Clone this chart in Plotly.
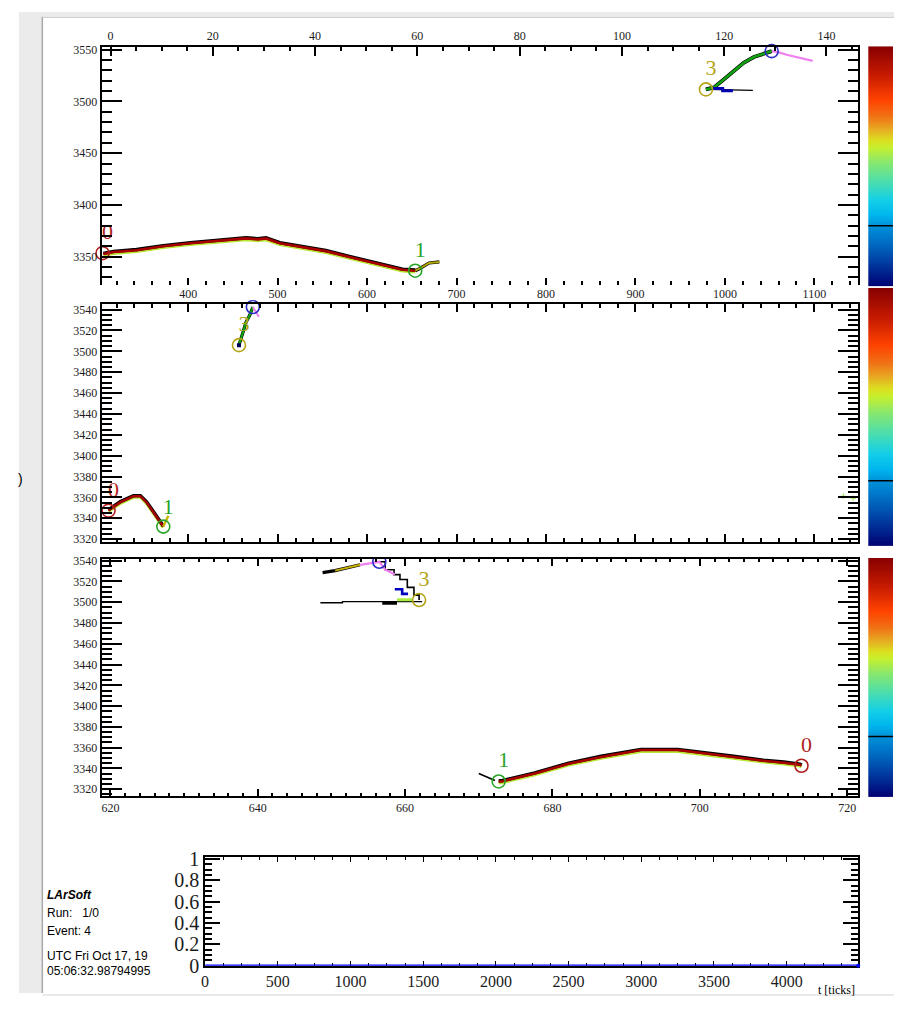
import numpy as np
import plotly.graph_objects as go

W, H = 905, 1010

# ---------------- vertices (same ids / colours in every view) ----------------
vtx_ids = ["0", "1", "2", "3"]
vtx_colors = ["#b01e1e", "#28a428", "#2c2cc4", "#b4a416"]

# ---------------- top view (x on the upper wire scale) ----------------
top_vtx_x = [-1.56, 59.58, 129.28, 116.43]
top_vtx_y = [3353.5, 3336.5, 3548.6, 3511.6]
top_trk0_x = [-1.4, 0.6, 5.1, 10.3, 15.6, 21.4, 26.5, 28.8, 30.4, 33.1, 37.6,
              42.1, 46.7, 50.6, 54.5, 57.1, 59.6]
top_trk0_y = [3352.6, 3354.5, 3356.3, 3360.1, 3363.0, 3365.8, 3367.7, 3366.8,
              3367.7, 3363.0, 3359.2, 3355.4, 3349.7, 3345.0, 3340.2, 3337.4, 3336.5]
top_tail_x = [59.6, 60.4, 62.3, 64.3]
top_tail_y = [3336.5, 3338.4, 3344.0, 3345.0]
top_trk1_x = [116.4, 118.0, 119.9, 121.9, 123.8, 125.8, 127.5, 129.3]
top_trk1_y = [3511.6, 3513.5, 3521.1, 3529.6, 3537.2, 3542.9, 3545.7, 3548.6]
top_trk2_x = [129.3, 130.5, 132.4, 134.9, 137.3]
top_trk2_y = [3548.6, 3547.6, 3544.8, 3541.9, 3539.1]
top_stub_x = [116.8, 125.6]
top_stub_y = [3511.6, 3510.7]
top_blue_x = [117.8, 119.7, 119.7, 121.7]
top_blue_y = [3512.4, 3512.4, 3510.3, 3510.3]

# ---------------- middle view ----------------
mid_vtx_x = [311.0, 372.2, 472.3, 456.8]
mid_vtx_y = [3347.3, 3332.0, 3542.5, 3505.9]
mid_trk0_x = [311.0, 313.2, 324.3, 338.8, 346.6, 353.3, 361.1, 370.0, 372.2]
mid_trk0_y = [3347.3, 3348.9, 3355.4, 3361.1, 3361.1, 3355.4, 3346.0, 3334.8, 3332.0]
mid_tail_x = [372.2, 377.8]
mid_tail_y = [3332.0, 3342.3]
mid_trk1_x = [456.8, 459.0, 461.2, 464.5, 469.0, 472.3]
mid_trk1_y = [3505.9, 3513.4, 3518.1, 3527.5, 3535.0, 3542.5]
mid_trk2_x = [472.3, 474.6, 479.0]
mid_trk2_y = [3542.5, 3538.8, 3533.1]
mid_hits_x = [1132.3, 1143.4]
mid_hits_y = [3361.1, 3359.2]

# ---------------- bottom view ----------------
bot_vtx_x = [713.8, 672.7, 656.5, 661.9]
bot_vtx_y = [3342.6, 3327.5, 3538.9, 3502.1]
bot_trk0_x = [713.8, 713.6, 711.4, 708.6, 704.6, 699.7, 697.0, 692.0, 690.3,
              686.6, 682.2, 677.6, 673.1, 672.7]
bot_trk0_y = [3342.6, 3343.6, 3345.5, 3347.4, 3351.1, 3354.9, 3357.7, 3357.7,
              3355.8, 3351.1, 3344.5, 3335.1, 3327.5, 3327.5]
bot_lead_x = [670.0, 672.2]
bot_lead_y = [3335.1, 3328.5]
bot_trk1_x = [656.5, 657.3, 658.5, 659.3, 660.3, 661.2, 661.9]
bot_trk1_y = [3538.9, 3531.3, 3526.6, 3521.9, 3514.3, 3506.8, 3502.1]
bot_trk2_x = [653.9, 656.5, 657.3, 658.6]
bot_trk2_y = [3536.0, 3538.9, 3531.3, 3526.6]
bot_left_x = [648.8, 650.5, 653.9]
bot_left_y = [3528.5, 3530.4, 3536.0]
bot_flat_x = [648.5, 651.5, 651.5, 662.3]
bot_flat_y = [3499.5, 3499.5, 3500.5, 3500.5]
bot_blob_x = [656.9, 658.9]
bot_blob_y = [3499.3, 3499.3]
bot_blue_x = [658.6, 659.6, 659.6, 660.4]
bot_blue_y = [3512.5, 3512.5, 3508.0, 3508.0]
bot_green_x = [658.9, 661.0]
bot_green_y = [3502.3, 3502.3]

# ---------------- time histogram ----------------
hist_t = [0, 4492]
hist_n = [0, 0]

# ---------------- view geometry (pixels) ----------------
X0, X1 = 98, 858
TOP_PX = (38.3, 282.0)
MID_PX = (300.5, 544.0)
BOT_PX = (561.0, 803.0)
HIST_PX = (202, 858, 865.0, 976.0)
CB_X = (868, 893)
CB_PX = [(38, 283), (284.5, 548), (560, 804)]

TOP_XW = [-1.75, 146.2]
TOP_XC = [303.2, 1149.0]
TOP_Y = [3322.3, 3553.0]
MID_X = [303.2, 1149.0]
MID_Y = [3317.0, 3545.8]
BOT_X = [618.8, 721.5]
BOT_Y = [3313.4, 3541.7]
T_RANGE = [0, 4492]


def xd(a, b):
    return [a / W, b / W]


def yd(a, b):
    return [1 - b / H, 1 - a / H]


SERIF = "Liberation Serif"
fig = go.Figure()


def line(x, y, color, width, xa, ya, shape="linear", clip=True):
    fig.add_trace(go.Scatter(x=x, y=y, mode="lines",
                             line=dict(color=color, width=width, shape=shape),
                             xaxis=xa, yaxis=ya, hoverinfo="skip",
                             showlegend=False, cliponaxis=clip))


def track(x, y, color, xa, ya, edge=1.1, core=2.6):
    ys = np.asarray(y, dtype=float)
    line(x, ys - edge, "#b8e634", 3.4, xa, ya)
    line(x, ys + 0.6 * edge, "black", 3.4, xa, ya)
    line(x, y, color, core, xa, ya)


def vertices(vx, vy, xa, ya, clip):
    fig.add_trace(go.Scatter(x=vx, y=vy, mode="markers",
                             marker=dict(symbol="circle-open", size=13,
                                         color=vtx_colors, line=dict(width=1.6)),
                             xaxis=xa, yaxis=ya, hoverinfo="skip",
                             showlegend=False, cliponaxis=clip))


def labels(vx, vy, xr, yr, ypx, xa, ya, clip, lift=(20, 20, 20, 20)):
    sx = (xr[1] - xr[0]) / (X1 - X0)
    sy = (yr[1] - yr[0]) / (ypx[1] - ypx[0])
    lx = [v + 5 * sx for v in vx]
    ly = [v + l * sy for v, l in zip(vy, lift)]
    fig.add_trace(go.Scatter(x=lx, y=ly, mode="text", text=vtx_ids,
                             textposition="middle center",
                             textfont=dict(family=SERIF, size=22, color=vtx_colors),
                             xaxis=xa, yaxis=ya, hoverinfo="skip",
                             showlegend=False, cliponaxis=clip))


# ---- top view ----
fig.add_trace(go.Scatter(x=[None], y=[None], xaxis="x", yaxis="y", showlegend=False))
line(top_stub_x, top_stub_y, "black", 1.3, "x2", "y")
track(top_trk0_x, top_trk0_y, "#a80000", "x2", "y")
line(top_tail_x, top_tail_y, "black", 3.2, "x2", "y")
line(top_tail_x, top_tail_y, "#b0a800", 2.0, "x2", "y")
line(top_trk1_x, top_trk1_y, "black", 3.8, "x2", "y")
line(top_trk1_x, top_trk1_y, "#10a010", 2.6, "x2", "y")
line(top_trk2_x, top_trk2_y, "#f080f0", 2.2, "x2", "y")
line(top_blue_x, top_blue_y, "#0000b0", 3.0, "x2", "y")
vertices(top_vtx_x, top_vtx_y, "x2", "y", False)
labels(top_vtx_x, top_vtx_y, TOP_XW, TOP_Y, TOP_PX, "x2", "y", False)

# ---- middle view ----
track(mid_trk0_x, mid_trk0_y, "#a80000", "x3", "y3", edge=0.9, core=2.4)
line(mid_tail_x, mid_tail_y, "#c8b400", 2.4, "x3", "y3")
line(mid_trk1_x, mid_trk1_y, "black", 3.2, "x3", "y3")
line(mid_trk1_x, mid_trk1_y, "#10a010", 2.2, "x3", "y3")
line(mid_trk2_x, mid_trk2_y, "#f080f0", 2.0, "x3", "y3")
fig.add_trace(go.Scatter(x=mid_hits_x, y=mid_hits_y, mode="markers",
                         marker=dict(symbol="cross-thin", size=4,
                                     line=dict(color="#9be25a", width=1)),
                         xaxis="x3", yaxis="y3", hoverinfo="skip", showlegend=False))
fig.add_trace(go.Scatter(x=mid_vtx_x[3:], y=mid_vtx_y[3:], mode="markers",
                         marker=dict(symbol="square", size=4, color="#000050"),
                         xaxis="x3", yaxis="y3", hoverinfo="skip", showlegend=False))
vertices(mid_vtx_x, mid_vtx_y, "x3", "y3", False)
labels(mid_vtx_x, mid_vtx_y, MID_X, MID_Y, MID_PX, "x3", "y3", False,
       lift=(20, 18, 8, 20))

# ---- bottom view ----
line(bot_flat_x, bot_flat_y, "black", 1.3, "x4", "y4")
line(bot_blob_x, bot_blob_y, "black", 3.5, "x4", "y4")
line(bot_green_x, bot_green_y, "#a8ec40", 3.0, "x4", "y4")
line(bot_left_x, bot_left_y, "black", 3.2, "x4", "y4")
line(bot_left_x[1:], bot_left_y[1:], "#c8b400", 2.0, "x4", "y4")
line(bot_trk1_x, bot_trk1_y, "black", 1.6, "x4", "y4", shape="hv")
line(bot_trk2_x, bot_trk2_y, "#f080f0", 2.2, "x4", "y4")
line(bot_blue_x, bot_blue_y, "#0000c0", 2.6, "x4", "y4")
line(bot_lead_x, bot_lead_y, "black", 1.6, "x4", "y4")
track(bot_trk0_x, bot_trk0_y, "#a80000", "x4", "y4")
vertices(bot_vtx_x, bot_vtx_y, "x4", "y4", True)
labels(bot_vtx_x, bot_vtx_y, BOT_X, BOT_Y, BOT_PX, "x4", "y4", True)

# ---- time histogram ----
line(hist_t, hist_n, "#0000ff", 2.4, "x5", "y5", clip=False)
fig.add_trace(go.Scatter(x=hist_t[-1:], y=hist_n[-1:], mode="markers",
                         marker=dict(size=4, color="#0000ff"), cliponaxis=False,
                         xaxis="x5", yaxis="y5", hoverinfo="skip", showlegend=False))

# ---- colour scales for hit charge ----
jet = [[0.0, "#000072"], [0.12, "#0048aa"], [0.2, "#0076ca"], [0.25, "#0090d8"],
       [0.3, "#00b6ee"], [0.36, "#14cfe8"], [0.43, "#46ddb4"], [0.52, "#8ae86c"],
       [0.58, "#c6f02e"], [0.61, "#dce020"], [0.66, "#e8a622"], [0.71, "#f07214"],
       [0.78, "#ff4200"], [0.88, "#c81c00"], [1.0, "#880000"]]
levels = np.linspace(0, 1, 200)
for k in range(3):
    fig.add_trace(go.Heatmap(z=[[v, v] for v in levels], x=[0, 1], y=levels,
                             colorscale=jet, showscale=False, zsmooth="best",
                             xaxis=f"x{6 + k}", yaxis=f"y{6 + k}", hoverinfo="skip"))

# ---------------- axes ----------------
TICKFONT = dict(family=SERIF, size=12, color="#1c1c1c")
BASE = dict(showgrid=False, zeroline=False, ticks="inside", tickcolor="black",
            linecolor="black", linewidth=2, fixedrange=True, tickfont=TICKFONT)


def minor(dt, ln, w=1.5):
    return dict(dtick=dt, tick0=0, ticklen=ln, tickwidth=w, ticks="inside",
                tickcolor="black", showgrid=False)


layout_axes = dict(
    xaxis=dict(BASE, domain=xd(X0, X1), range=TOP_XC, anchor="y", side="bottom",
               showline=False, dtick=100, tick0=0, ticklen=7, tickwidth=1.5,
               minor=minor(20, 4)),
    xaxis2=dict(BASE, domain=xd(X0, X1), range=TOP_XW, anchor="y", overlaying="x",
                side="top", showline=True, dtick=20, tick0=0, ticklen=9,
                tickwidth=1.5, minor=minor(5, 4)),
    yaxis=dict(BASE, domain=yd(*TOP_PX), range=TOP_Y, anchor="x", showline=True,
               mirror="ticks", dtick=50, tick0=0, ticklen=20, tickwidth=2,
               minor=minor(10, 10, 2)),
    xaxis3=dict(BASE, domain=xd(X0, X1), range=MID_X, anchor="y3", showline=True,
                mirror="ticks", dtick=100, tick0=0, ticklen=8, tickwidth=1.5,
                showticklabels=False, minor=minor(20, 4)),
    yaxis3=dict(BASE, domain=yd(*MID_PX), range=MID_Y, anchor="x3", showline=True,
                mirror="ticks", dtick=20, tick0=0, ticklen=20, tickwidth=2,
                minor=minor(5, 10, 2)),
    xaxis4=dict(BASE, domain=xd(X0, X1), range=BOT_X, anchor="y4", showline=True,
                mirror="ticks", dtick=20, tick0=0, ticklen=7, tickwidth=1.5,
                minor=minor(2, 3)),
    yaxis4=dict(BASE, domain=yd(*BOT_PX), range=BOT_Y, anchor="x4", showline=True,
                mirror="ticks", dtick=20, tick0=0, ticklen=20, tickwidth=2,
                minor=minor(5, 10, 2)),
    xaxis5=dict(BASE, domain=xd(HIST_PX[0], HIST_PX[1]), range=T_RANGE,
                anchor="y5", showline=True, linewidth=1.5, mirror="ticks",
                layer="below traces",
                dtick=500, tick0=0, ticklen=5, tickwidth=1.2,
                tickfont=dict(family=SERIF, size=16, color="#1c1c1c"),
                minor=minor(125, 3, 1.2)),
    yaxis5=dict(BASE, domain=yd(HIST_PX[2], HIST_PX[3]), range=[0, 1.02],
                anchor="x5", showline=True, linewidth=1.5, mirror="ticks",
                layer="below traces",
                dtick=0.2, tick0=0, ticklen=15, tickwidth=1.5,
                tickfont=dict(family=SERIF, size=20, color="#1c1c1c"),
                minor=minor(0.05, 7, 1.5)),
)
for k, (a, b) in enumerate(CB_PX):
    layout_axes[f"xaxis{6 + k}"] = dict(domain=xd(*CB_X), range=[0, 1], visible=False,
                                        anchor=f"y{6 + k}", fixedrange=True)
    layout_axes[f"yaxis{6 + k}"] = dict(domain=yd(a, b), range=[0, 1], visible=False,
                                        anchor=f"x{6 + k}", fixedrange=True)

# ---------------- canvas decoration ----------------
shapes = [
    dict(type="rect", xref="paper", yref="paper", x0=15 / W, x1=38 / W,
         y0=1 - 1004 / H, y1=1 - 3 / H, fillcolor="#ebebeb", line=dict(width=0),
         layer="below"),
    dict(type="rect", xref="paper", yref="paper", x0=15 / W, x1=894 / W,
         y0=1 - 8 / H, y1=1 - 3 / H, fillcolor="#ebebeb", line=dict(width=0),
         layer="below"),
    dict(type="line", xref="paper", yref="paper", x0=38.5 / W, x1=38.5 / W,
         y0=1 - 1004 / H, y1=1 - 8 / H, line=dict(color="#a8a8a8", width=1.5)),
    dict(type="line", xref="paper", yref="paper", x0=38.5 / W, x1=894 / W,
         y0=1 - 8.5 / H, y1=1 - 8.5 / H, line=dict(color="#c8c8c8", width=1)),
    dict(type="line", xref="paper", yref="paper", x0=38.5 / W, x1=894 / W,
         y0=1 - 1006 / H, y1=1 - 1006 / H, line=dict(color="#e2e2e2", width=1.5)),
    # edge of the middle view's pad, hiding the top of its vertex label
    dict(type="rect", xref="paper", yref="paper", x0=243 / W, x1=263 / W,
         y0=1 - 297 / H, y1=1 - 283 / H, fillcolor="white", line=dict(width=0),
         layer="above"),
]
for k, (a, b) in enumerate(CB_PX):
    shapes.append(dict(type="line", xref=f"x{6 + k}", yref=f"y{6 + k}",
                       x0=0, x1=1, y0=0.253, y1=0.253,
                       line=dict(color="black", width=1.5)))

SANS = "Liberation Sans"
info = [("<b><i>LArSoft</i></b>", 904), ("Run:\u00a0\u00a0\u00a01/0", 922),
        ("Event: 4", 941), ("UTC Fri Oct 17, 19", 966), ("05:06:32.98794995", 981)]
annotations = [dict(x=41 / W, y=1 - yy / H, xref="paper", yref="paper", text=t,
                    xanchor="left", yanchor="middle", showarrow=False,
                    font=dict(family=SANS, size=12, color="black"))
               for t, yy in info]
annotations.append(dict(x=857 / W, y=1 - 1001 / H, xref="paper", yref="paper",
                        text="t [ticks]", xanchor="right", yanchor="middle",
                        showarrow=False,
                        font=dict(family=SERIF, size=12, color="black")))
annotations.append(dict(x=17 / W, y=1 - 480 / H, xref="paper", yref="paper",
                        text=")", xanchor="center", yanchor="middle",
                        showarrow=False, font=dict(family=SANS, size=14, color="black")))

fig.update_layout(width=W, height=H, margin=dict(l=0, r=0, t=0, b=0),
                  paper_bgcolor="white", plot_bgcolor="white", showlegend=False,
                  shapes=shapes, annotations=annotations, **layout_axes)

fig.write_html("out.html")
